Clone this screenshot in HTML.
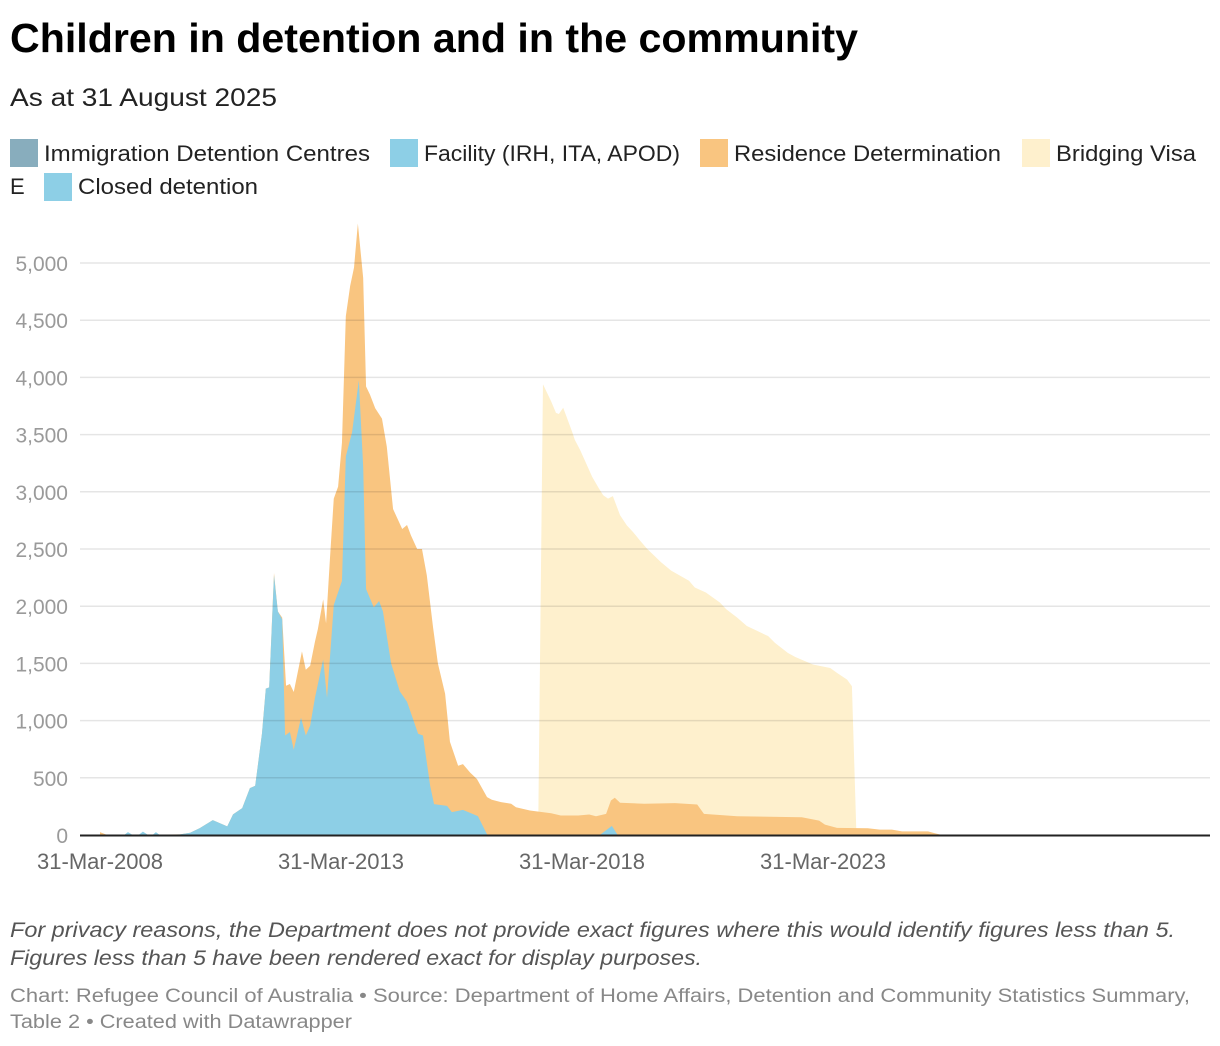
<!DOCTYPE html>
<html><head><meta charset="utf-8"><style>
body{margin:0;background:#fff;}
svg{display:block;font-family:"Liberation Sans",sans-serif;}
</style></head><body>
<svg id="chart" width="1220" height="1046" viewBox="0 0 1220 1046">
<text x="10" y="52" font-size="41" font-weight="bold" fill="#000" textLength="848" lengthAdjust="spacingAndGlyphs">Children in detention and in the community</text>
<text x="10" y="106" font-size="25" fill="#222" textLength="267" lengthAdjust="spacingAndGlyphs">As at 31 August 2025</text>
<g>
 <g><rect x="10" y="139" width="28" height="28" fill="#88adbd"/><text x="44" y="161" font-size="22" fill="#222" textLength="326" lengthAdjust="spacingAndGlyphs">Immigration Detention Centres</text></g>
 <g><rect x="390" y="139" width="28" height="28" fill="#8dcfe6"/><text x="424" y="161" font-size="22" fill="#222" textLength="256" lengthAdjust="spacingAndGlyphs">Facility (IRH, ITA, APOD)</text></g>
 <g><rect x="700" y="139" width="28" height="28" fill="#f9c580"/><text x="734" y="161" font-size="22" fill="#222" textLength="267" lengthAdjust="spacingAndGlyphs">Residence Determination</text></g>
 <g><rect x="1022" y="139" width="28" height="28" fill="#fef0cd"/><text x="1056" y="161" font-size="22" fill="#222" textLength="140" lengthAdjust="spacingAndGlyphs">Bridging Visa</text><text x="10" y="194" font-size="22" fill="#222">E</text></g>
 <g><rect x="44" y="173" width="28" height="28" fill="#8dcfe6"/><text x="78" y="194" font-size="22" fill="#222" textLength="180" lengthAdjust="spacingAndGlyphs">Closed detention</text></g>
</g>
<g id="areas"></g>
<g id="grid"></g>
<g id="yaxis"></g>
<g id="xaxis"></g>
<text x="10" y="937" font-size="21" font-style="italic" fill="#555" textLength="1165" lengthAdjust="spacingAndGlyphs">For privacy reasons, the Department does not provide exact figures where this would identify figures less than 5.</text>
<text x="10" y="965" font-size="21" font-style="italic" fill="#555" textLength="692" lengthAdjust="spacingAndGlyphs">Figures less than 5 have been rendered exact for display purposes.</text>
<text x="10" y="1002" font-size="19" fill="#888" textLength="1180" lengthAdjust="spacingAndGlyphs">Chart: Refugee Council of Australia • Source: Department of Home Affairs, Detention and Community Statistics Summary,</text>
<text x="10" y="1028" font-size="19" fill="#888" textLength="342" lengthAdjust="spacingAndGlyphs">Table 2 • Created with Datawrapper</text>
</svg>
<script>
const bridgingDates=[2017.34,2017.44,2017.61,2017.71,2017.77,2017.86,2018.04,2018.10,2018.21,2018.35,2018.46,2018.60,2018.69,2018.79,2018.89,2019.04,2019.18,2019.31,2019.45,2019.60,2019.89,2020.10,2020.47,2020.59,2020.82,2021.11,2021.24,2021.47,2021.67,2022.11,2022.25,2022.52,2022.67,2023.04,2023.40,2023.54,2023.75,2023.85,2023.94,2023.98];
const bridgingValues=[0,3940,3790,3690,3680,3735,3530,3455,3367,3235,3132,3030,2970,2940,2962,2795,2707,2648,2575,2502,2384,2311,2223,2164,2120,2032,1974,1900,1827,1739,1680,1592,1557,1490,1460,1417,1358,1300,53,0];
const residenceDates=[2008.25,2008.40,2009.91,2010.12,2010.32,2010.59,2010.89,2011.01,2011.20,2011.36,2011.47,2011.61,2011.69,2011.76,2011.86,2011.94,2012.03,2012.11,2012.19,2012.27,2012.44,2012.52,2012.61,2012.71,2012.77,2012.88,2012.94,2013.02,2013.10,2013.19,2013.27,2013.35,2013.44,2013.52,2013.60,2013.71,2013.77,2013.85,2013.96,2014.10,2014.20,2014.33,2014.52,2014.62,2014.70,2014.83,2014.93,2015.03,2015.16,2015.26,2015.41,2015.51,2015.68,2015.78,2015.93,2016.07,2016.28,2016.38,2016.57,2016.78,2016.88,2017.17,2017.61,2017.81,2018.17,2018.40,2018.54,2018.75,2018.85,2018.93,2019.04,2019.54,2020.18,2020.64,2020.78,2021.47,2022.81,2023.17,2023.29,2023.54,2024.18,2024.43,2024.68,2024.89,2025.43,2025.57,2025.72];
const residenceValues=[25,0,5,20,60,130,75,180,235,410,430,885,1280,1290,2290,1955,1900,1305,1320,1250,1605,1445,1480,1690,1800,2060,1850,2410,2940,3045,3430,4535,4800,4960,5345,4870,3920,3850,3730,3640,3395,2850,2675,2710,2620,2500,2500,2270,1815,1500,1235,815,605,620,545,490,331,308,287,273,243,214,190,170,170,179,164,185,302,326,282,273,279,267,185,164,155,126,91,62,59,47,47,32,32,15,0];
const closedDates=[2008.25,2008.75,2008.83,2008.93,2009.05,2009.14,2009.25,2009.34,2009.41,2009.49,2009.91,2010.12,2010.32,2010.59,2010.89,2011.01,2011.20,2011.36,2011.47,2011.61,2011.69,2011.76,2011.86,2011.94,2012.03,2012.09,2012.19,2012.27,2012.42,2012.52,2012.61,2012.71,2012.88,2012.96,2013.10,2013.27,2013.35,2013.48,2013.62,2013.71,2013.77,2013.93,2014.04,2014.12,2014.29,2014.47,2014.62,2014.85,2014.95,2015.10,2015.18,2015.45,2015.55,2015.78,2016.09,2016.28,2016.35,2018.62,2018.87,2018.99,2025.72];
const closedValues=[0,0,25,0,0,30,0,0,25,0,5,20,60,130,75,180,235,410,430,885,1280,1290,2270,1955,1885,870,900,745,1025,870,955,1200,1535,1200,2010,2220,3310,3520,3975,3220,2150,1990,2045,1955,1500,1255,1165,885,870,430,270,255,200,220,165,5,0,0,80,0,0];
const yTicks=[0,500,1000,1500,2000,2500,3000,3500,4000,4500,5000];
const yTickLabels=["0","500","1,000","1,500","2,000","2,500","3,000","3,500","4,000","4,500","5,000"];
const xTicks=[2008.25,2013.25,2018.25,2023.25];
const xTickLabels=["31-Mar-2008","31-Mar-2013","31-Mar-2018","31-Mar-2023"];

const NS="http://www.w3.org/2000/svg";
function xScale(t){return 100+(t-2008.25)*48.2;}
function yScale(v){return 835-v*0.1144;}
function mk(tag,attrs,parent){const e=document.createElementNS(NS,tag);for(const k in attrs)e.setAttribute(k,attrs[k]);parent.appendChild(e);return e;}
function areaPath(ds,vs){let d="M"+xScale(ds[0])+","+yScale(0);for(let i=0;i<ds.length;i++)d+="L"+xScale(ds[i]).toFixed(2)+","+yScale(vs[i]).toFixed(2);d+="L"+xScale(ds[ds.length-1])+","+yScale(0)+"Z";return d;}
const areas=document.getElementById('areas');
let p=mk('path',{d:areaPath(bridgingDates,bridgingValues),fill:'#fef0cd'},areas);


p=mk('path',{d:areaPath(residenceDates,residenceValues),fill:'#f9c580'},areas);


p=mk('path',{d:areaPath(closedDates,closedValues),fill:'#8dcfe6'},areas);


const grid=document.getElementById('grid'),ya=document.getElementById('yaxis'),xa=document.getElementById('xaxis');
yTicks.forEach((v,i)=>{
 if(v>0){const l=mk('line',{x1:80,x2:1210,y1:yScale(v),y2:yScale(v),stroke:'rgba(0,0,0,0.1)','stroke-width':1.5},grid);
 
 }
 const t=mk('text',{x:68,y:yScale(v)+8,'text-anchor':'end','font-size':21,fill:'#9a9a9a'},ya);
 t.textContent=yTickLabels[i];
 
 
});
const base=mk('line',{x1:80,x2:1210,y1:835.5,y2:835.5,stroke:'#222','stroke-width':2},xa);


xTicks.forEach((t,i)=>{
 const e=mk('text',{x:xScale(t),y:869,'text-anchor':'middle','font-size':22,fill:'#666'},xa);
 e.textContent=xTickLabels[i];
 
 
});
</script>
</body></html>
